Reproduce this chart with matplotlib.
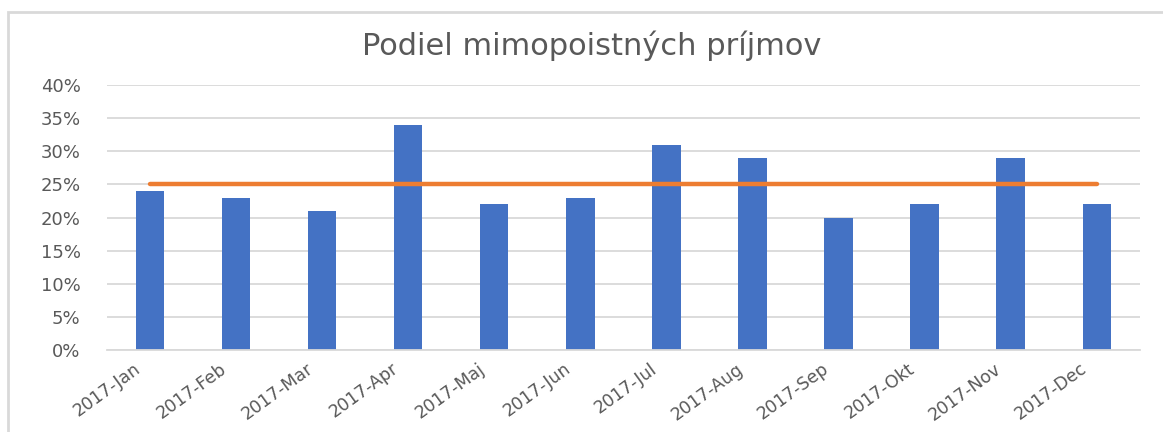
import matplotlib
matplotlib.use("Agg")
import matplotlib.pyplot as plt
from matplotlib.patches import Rectangle
from matplotlib.ticker import FuncFormatter
from matplotlib.transforms import ScaledTranslation

categories = ["2017-Jan", "2017-Feb", "2017-Mar", "2017-Apr", "2017-Maj", "2017-Jun",
              "2017-Jul", "2017-Aug", "2017-Sep", "2017-Okt", "2017-Nov", "2017-Dec"]
share = [0.24, 0.23, 0.21, 0.34, 0.22, 0.23, 0.31, 0.29, 0.20, 0.22, 0.29, 0.22]
target = [0.25] * 12
title = "Podiel mimopoistných príjmov"

plt.rcParams['font.family'] = ['DejaVu Sans']
fig = plt.figure(figsize=(11.63, 4.32), dpi=100)
ax = fig.add_axes([0.092, 0.190, 0.888, 0.613])

x = list(range(len(categories)))
ax.bar(x, share, width=0.33, color="#4472C4", zorder=2)
ax.plot(x, target, color="#ED7D31", linewidth=3.2, solid_capstyle="round", zorder=3)

ax.set_xlim(-0.5, len(categories) - 0.5)
ax.set_ylim(0, 0.40)
ax.set_yticks([i * 0.05 for i in range(9)])
ax.yaxis.set_major_formatter(FuncFormatter(lambda v, p: f"{round(v*100)}%"))
ax.grid(axis="y", color="#D9D9D9", linewidth=1.3, zorder=0)
ax.set_axisbelow(True)
for s in ["top", "right", "left"]:
    ax.spines[s].set_visible(False)
ax.spines["bottom"].set_color("#D9D9D9")
ax.spines["bottom"].set_linewidth(1.3)
ax.tick_params(axis="both", length=0, colors="#595959", labelsize=13)
ax.tick_params(axis="y", pad=19)
ax.set_xticks(x)
ax.set_xticklabels(categories, rotation=36, ha="right", rotation_mode="anchor")
ax.tick_params(axis="x", pad=7, labelsize=12.5)
offset = ScaledTranslation(-12 / 72, 0, fig.dpi_scale_trans)
for lbl in ax.get_xticklabels():
    lbl.set_transform(lbl.get_transform() + offset)

fig.text(0.509, 0.895, title, ha="center", va="center", fontsize=22, color="#595959")

fig.add_artist(Rectangle((8/1163, -0.1), 1.2, 1.1 - 12/432, transform=fig.transFigure,
                         fill=False, edgecolor="#D9D9D9", linewidth=2))

fig.savefig("out.png", dpi=100)
